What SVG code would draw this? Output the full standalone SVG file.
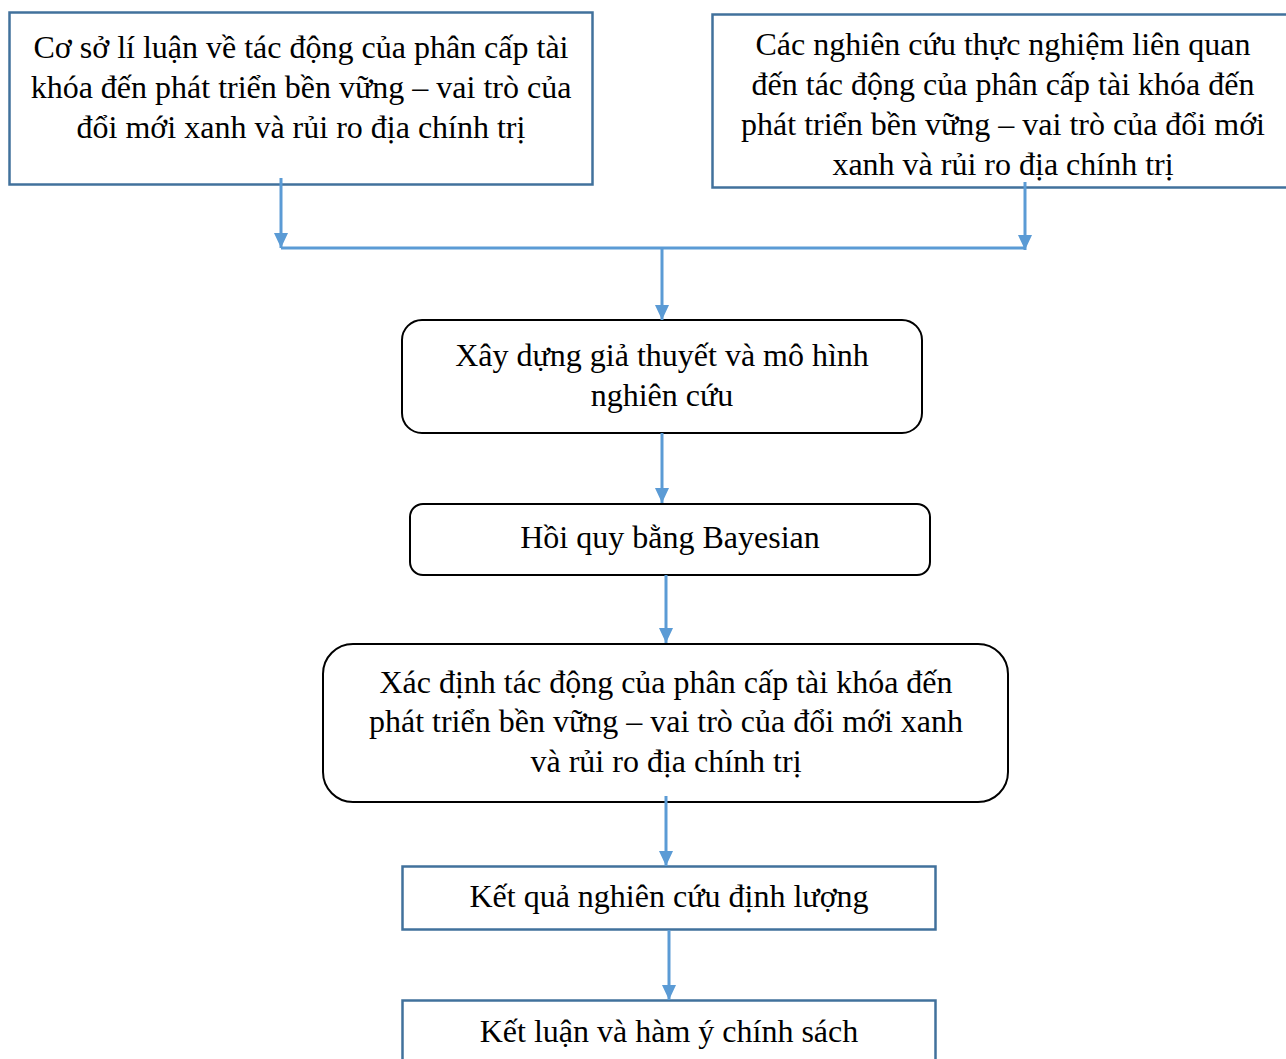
<svg xmlns="http://www.w3.org/2000/svg" width="1286" height="1059" viewBox="0 0 1286 1059">
<style>
.t{font-family:"Liberation Serif","Times New Roman",serif;font-size:32px;fill:#000;text-anchor:middle}
.bx{fill:#fff;stroke:#41719C;stroke-width:2.5}
.rb{fill:#fff;stroke:#000;stroke-width:2}
.c{fill:none;stroke:#5B9BD5;stroke-width:3}
</style>
<defs>
<marker id="ah" viewBox="0 0 15 14" refX="15" refY="7" markerWidth="15" markerHeight="14" markerUnits="userSpaceOnUse" orient="auto">
<path d="M0,0 L15,7 L0,14 Z" fill="#5B9BD5"/>
</marker>
</defs>
<g id="n1">
<rect class="bx" x="9.5" y="12.5" width="583" height="172"/>
<text class="t" x="301" y="58">Cơ sở lí luận về tác động của phân cấp tài</text>
<text class="t" x="301" y="98">khóa đến phát triển bền vững – vai trò của</text>
<text class="t" x="301" y="138">đổi mới xanh và rủi ro địa chính trị</text>
</g>
<g id="n2">
<rect class="bx" x="712.5" y="14.5" width="580" height="173"/>
<text class="t" x="1003" y="55">Các nghiên cứu thực nghiệm liên quan</text>
<text class="t" x="1003" y="95">đến tác động của phân cấp tài khóa đến</text>
<text class="t" x="1003" y="135">phát triển bền vững – vai trò của đổi mới</text>
<text class="t" x="1003" y="175">xanh và rủi ro địa chính trị</text>
</g>
<g id="n3">
<rect class="rb" x="402" y="320" width="520" height="113" rx="20"/>
<text class="t" x="662" y="366">Xây dựng giả thuyết và mô hình</text>
<text class="t" x="662" y="406">nghiên cứu</text>
</g>
<g id="n4">
<rect class="rb" x="410" y="504" width="520" height="71" rx="13"/>
<text class="t" x="670" y="548">Hồi quy bằng Bayesian</text>
</g>
<g id="n5">
<rect class="rb" x="323" y="644" width="685" height="158" rx="30"/>
<text class="t" x="666" y="693">Xác định tác động của phân cấp tài khóa đến</text>
<text class="t" x="666" y="732">phát triển bền vững – vai trò của đổi mới xanh</text>
<text class="t" x="666" y="772">và rủi ro địa chính trị</text>
</g>
<g id="n6">
<rect class="bx" x="402.5" y="866.5" width="533" height="63"/>
<text class="t" x="669" y="907">Kết quả nghiên cứu định lượng</text>
</g>
<g id="n7">
<rect class="bx" x="402.5" y="1000.5" width="533" height="70"/>
<text class="t" x="669" y="1042">Kết luận và hàm ý chính sách</text>
</g>
<g id="connectors">
<path class="c" d="M281,178 V248" marker-end="url(#ah)"/>
<path class="c" d="M1025,182 V250" marker-end="url(#ah)"/>
<path class="c" d="M281,248 H1025"/>
<path class="c" d="M662,248 V320" marker-end="url(#ah)"/>
<path class="c" d="M662,433 V503" marker-end="url(#ah)"/>
<path class="c" d="M666,575 V643" marker-end="url(#ah)"/>
<path class="c" d="M666,796 V866" marker-end="url(#ah)"/>
<path class="c" d="M669,930 V1000" marker-end="url(#ah)"/>
</g>
</svg>
